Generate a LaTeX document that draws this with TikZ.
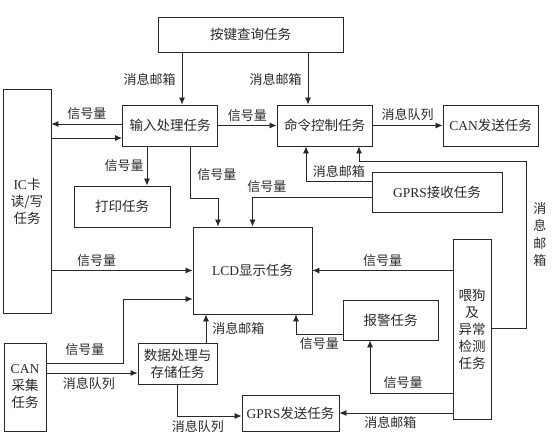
\documentclass[tikz,border=0pt]{standalone}
\usepackage{fontspec}
\setmainfont{Noto Sans CJK SC}
\newfontfamily\latin{Liberation Serif}
\usetikzlibrary{arrows.meta}
\definecolor{linegray}{RGB}{40,40,40}

\tikzset{
  box/.style={draw=linegray, line width=0.9pt, align=center, inner sep=0pt},
  arr/.style={draw=linegray, line width=0.8pt, -{Latex[length=7pt,width=6pt]}},
  lab/.style={font=\fontsize{13}{17.5}\selectfont, inner sep=3pt, text=linegray},
}

\begin{document}
\begin{tikzpicture}[x=1pt, y=-1pt, font=\fontsize{13.5}{17}\selectfont, text=linegray]

% Frame
\useasboundingbox (0,0) rectangle (555,442);

% Boxes
\node[box, minimum width=185pt, minimum height=35pt] (key) at (250.5,34.5) {按键查询任务};
\node[box, minimum width=95pt, minimum height=41pt] (input) at (170,125.5) {输入处理任务};
\node[box, minimum width=95pt, minimum height=41pt] (cmd) at (324.5,125.5) {命令控制任务};
\node[box, minimum width=95pt, minimum height=41pt] (cantx) at (490.5,125.5) {{\latin CAN}发送任务};
\node[box, minimum width=48pt, minimum height=224pt] (ic) at (27,201) {{\latin IC}卡\\读/写\\任务};
\node[box, minimum width=96pt, minimum height=41pt] (print) at (122,206.5) {打印任务};
\node[box, minimum width=119pt, minimum height=87pt] (lcd) at (252.5,270.5) {{\latin LCD}显示任务};
\node[box, minimum width=130pt, minimum height=40pt] (gprsrx) at (437,192) {{\latin GPRS}接收任务};
\node[box, minimum width=38pt, minimum height=180pt] (dog) at (472,329) {喂狗\\及\\异常\\检测\\任务};
\node[box, minimum width=95pt, minimum height=40pt] (alarm) at (390.5,320) {报警任务};
\node[box, minimum width=42pt, minimum height=88pt] (canrx) at (25,387) {{\latin CAN}\\采集\\任务};
\node[box, minimum width=79pt, minimum height=41pt] (data) at (177.5,363.5) {数据处理与\\存储任务};
\node[box, minimum width=97pt, minimum height=36pt] (gprstx) at (290.5,413) {{\latin GPRS}发送任务};

% Turning point
\coordinate (dogturn) at (526,161);

% Top row
\draw[arr] ([xshift=12pt]input.north |- key.south) -- ([xshift=12pt]input.north)
  node[lab, midway, left, xshift=-3pt, yshift=-1pt] {消息邮箱};
\draw[arr] ([xshift=-16.5pt]cmd.north |- key.south) -- ([xshift=-16.5pt]cmd.north)
  node[lab, midway, left, xshift=-3pt, yshift=-1pt] {消息邮箱};
\draw[arr] ([yshift=1.5pt]input.west) -- ([yshift=1.5pt]input.west -| ic.east)
  node[lab, midway, above, yshift=1pt] {信号量};
\draw[arr] ([yshift=-12.5pt]input.west -| ic.east) -- ([yshift=-12.5pt]input.west);
\draw[arr] (input.east) -- (cmd.west)
  node[lab, midway, above, yshift=1pt] {信号量};
\draw[arr] (cmd.east) -- (cantx.west)
  node[lab, midway, above, yshift=1pt] {消息队列};

% Middle
\draw[arr] ([xshift=-23pt]input.south) -- ([xshift=-23pt]input.south |- print.north)
  node[lab, midway, left] {信号量};
\draw[arr] ([xshift=20pt]input.south) -- ++(0,52) node[lab, pos=0.55, right, xshift=4pt] {信号量}
  -| ([xshift=-34.5pt]lcd.north);
\draw[arr] ([yshift=-5pt]gprsrx.west) -| (lcd.north)
  node[lab, pos=0.44, above, yshift=1pt] {信号量};
\draw[arr] ([yshift=11pt]gprsrx.west) -| ([xshift=-18.5pt]cmd.south)
  node[lab, pos=0.25, above] {消息邮箱};
\draw[arr] ([yshift=1pt]dog.east) -| (dogturn)
  node[lab, pos=0.78, right, align=center, xshift=4pt] {消\\息\\邮\\箱}
  -| ([xshift=34.5pt]cmd.south);
\draw[arr] (ic.east |- lcd.west) -- (lcd.west)
  node[lab, pos=0.32, above, yshift=1pt] {信号量};
\draw[arr] (dog.west |- lcd.east) -- (lcd.east)
  node[lab, midway, above, yshift=1pt] {信号量};

% Bottom
\draw[arr] ([yshift=24pt]canrx.east) -- ++(77,0) node[lab, midway, above, yshift=4pt] {信号量}
  |- ([yshift=-28.5pt]lcd.west);
\draw[arr] ([yshift=14pt]canrx.east) -- ([yshift=14pt]canrx.east -| data.west)
  node[lab, midway, below, xshift=-3pt, yshift=-1pt] {消息队列};
\draw[arr] ([xshift=28.5pt]data.north) -- ([xshift=28.5pt]data.north |- lcd.south)
  node[lab, midway, right, xshift=3pt] {消息邮箱};
\draw[arr] (data.south) |- ([yshift=-3pt]gprstx.west)
  node[lab, pos=0.66, below, yshift=-1pt] {消息队列};
\draw[arr] ([yshift=-14pt]alarm.west) -| ([xshift=43.5pt]lcd.south)
  node[lab, pos=0.25, below] {信号量};
\draw[arr] ([yshift=-64pt]dog.west) -| ([xshift=-20.5pt]alarm.south)
  node[lab, pos=0.3, above, yshift=1pt] {信号量};
\draw[arr] (dog.west |- gprstx.east) -- (gprstx.east)
  node[lab, pos=0.55, below] {消息邮箱};

\end{tikzpicture}
\end{document}
